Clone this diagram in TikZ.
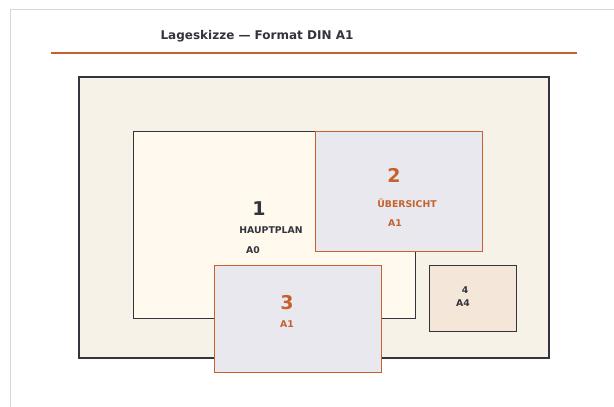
\documentclass[tikz,border=0pt]{standalone}
\usepackage{fontspec}
\setmainfont{DejaVu Sans}
\definecolor{ink}{HTML}{33343F}
\definecolor{rust}{HTML}{C4622D}
\definecolor{framefill}{HTML}{F7F2E8}
\definecolor{mainfill}{HTML}{FFF9EE}
\definecolor{subfill}{HTML}{E8E8EE}
\definecolor{smallfill}{HTML}{F5E6DA}
\definecolor{pageline}{HTML}{D8D8D0}
\begin{document}
\begin{tikzpicture}[x=1pt,y=-1pt,
  sheetdark/.style={draw=ink,line width=0.9pt},
  sheetrust/.style={draw=rust,line width=0.9pt,fill=subfill},
  bignum/.style={font=\bfseries\fontsize{19}{21}\selectfont},
  lbl/.style={font=\bfseries\fontsize{9.3}{11}\selectfont},
  ]
\useasboundingbox (0,0) rectangle (614,407);
\fill[white] (0,0) rectangle (614,407);
\draw[pageline,line width=0.8pt] (10.5,420) -- (10.5,9.5) -- (630,9.5);
\node[text=ink,font=\bfseries\fontsize{12}{14}\selectfont] (title) at (257,36) {Lageskizze — Format DIN A1};
\coordinate (ruleL) at (51,53);
\coordinate (ruleR) at (577,53);
\draw[rust,line width=1.2pt] (ruleL) -- (ruleR);
% outer frame
\draw[draw=ink,line width=1.6pt,fill=framefill] (79,77) rectangle (549,358);
% sheet 1
\draw[sheetdark,fill=mainfill] (133,131) rectangle (415,318);
\node[bignum,text=ink] (n1) at (259,209) {1};
\node[lbl,text=ink] (h1) at (271,230) {HAUPTPLAN};
\node[lbl,text=ink] (f1) at (253,250) {A0};
% sheet 2
\draw[sheetrust] (315,131) rectangle (482,251);
\node[bignum,text=rust] (n2) at (394,175) {2};
\node[lbl,text=rust] (h2) at (407,203) {ÜBERSICHT};
\node[lbl,text=rust] (f2) at (395,223) {A1};
% sheet 3
\draw[sheetrust] (214,265) rectangle (381,372);
\node[bignum,text=rust] (n3) at (287,303) {3};
\node[lbl,text=rust] (f3) at (287,324) {A1};
% sheet 4
\draw[sheetdark,fill=smallfill] (429,265) rectangle (516,331);
\node[lbl,text=ink] (n4) at (465,290) {4};
\node[lbl,text=ink] (f4) at (463,303) {A4};
\end{tikzpicture}
\end{document}
